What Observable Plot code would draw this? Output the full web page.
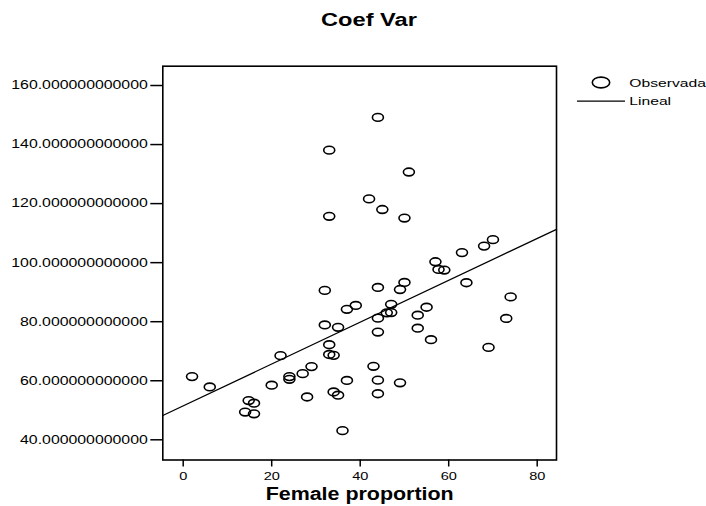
<!DOCTYPE html>
<html><head><meta charset="utf-8">
<script src="https://cdn.jsdelivr.net/npm/d3@7"></script>
<script src="https://cdn.jsdelivr.net/npm/@observablehq/plot@0.6"></script>
<style>
body{margin:0;background:#fff;font-family:"Liberation Sans",Arial,sans-serif;}
#wrap{position:relative;width:706px;height:506px;overflow:hidden;}
#title{display:block;}
#legend{position:absolute;left:0;top:0;}
</style></head><body>
<div id="wrap">
<svg id="title" width="706" height="40"><text x="369" y="26" text-anchor="middle" font-weight="bold" font-size="17.5" font-family="Liberation Sans, Arial, sans-serif" fill="black">Coef Var</text></svg>
<div id="chart"></div>
<svg id="legend" width="706" height="120" font-family="Liberation Sans, Arial, sans-serif">
  <ellipse cx="601" cy="82.5" rx="8.7" ry="5.4" fill="none" stroke="black" stroke-width="1.6"></ellipse>
  <text x="629.3" y="86.6" font-size="11.6" fill="black">Observada</text>
  <line x1="577" x2="625" y1="101.2" y2="101.2" stroke="black" stroke-width="1.2"></line>
  <text x="629.3" y="105.2" font-size="11.6" fill="black">Lineal</text>
</svg>
</div>
<script>
// Data
const femaleProportion = [2, 6, 14.8, 16, 14, 16, 20, 22, 24, 24, 27, 29, 28, 32, 32, 35, 37, 39, 33, 33, 34, 34, 35, 37, 36, 33, 33, 44, 51, 42, 45, 50, 70, 68, 63, 57, 57.7, 59, 64, 74, 73, 69, 44, 50, 49, 47, 46, 47, 44, 44, 53, 55, 53, 56, 43, 44, 49, 44];
const coefVar = [61.4, 57.9, 53.3, 52.4, 49.4, 48.8, 58.5, 68.5, 61.4, 60.5, 62.4, 64.8, 54.5, 90.6, 78.9, 78.1, 84.2, 85.5, 72.2, 68.9, 68.6, 56.2, 55.1, 60.1, 43.1, 138.1, 115.7, 149.2, 130.7, 121.6, 118.0, 115.1, 107.8, 105.6, 103.4, 100.3, 97.7, 97.5, 93.2, 88.4, 81.1, 71.3, 91.6, 93.3, 90.9, 85.9, 83.0, 83.1, 81.2, 76.5, 82.2, 84.9, 77.8, 73.9, 64.9, 60.2, 59.3, 55.6];
const xTicks = [0, 20, 40, 60, 80];
const yTicks = [40, 60, 80, 100, 120, 140, 160];
const xDomain = [-4.61, 84.36];
const yDomain = [33.16, 166.54];

const table = femaleProportion.map((x, i) => ({x, y: coefVar[i]}));

// Least-squares fit (Lineal)
const mx = d3.mean(femaleProportion), my = d3.mean(coefVar);
const slope = d3.sum(table, d => (d.x - mx) * (d.y - my)) / d3.sum(table, d => (d.x - mx) ** 2);
const intercept = my - slope * mx;
const fit = xDomain.map(x => ({x, y: intercept + slope * x}));

// hollow ellipse symbol
const K = 0.5522847498;
const ellipse = {
  draw(ctx, size) {
    const r = Math.sqrt(size / Math.PI);
    const rx = r, ry = r * 0.7;
    ctx.moveTo(rx, 0);
    ctx.bezierCurveTo(rx, K * ry, K * rx, ry, 0, ry);
    ctx.bezierCurveTo(-K * rx, ry, -rx, K * ry, -rx, 0);
    ctx.bezierCurveTo(-rx, -K * ry, -K * rx, -ry, 0, -ry);
    ctx.bezierCurveTo(K * rx, -ry, rx, -K * ry, rx, 0);
    ctx.closePath();
  }
};

const chart = Plot.plot({
  width: 706, height: 466,
  marginLeft: 162.3, marginRight: 150, marginTop: 25.7, marginBottom: 46.5,
  style: {fontFamily: "Liberation Sans, Arial, sans-serif", fontSize: "12px", color: "black", background: "white", overflow: "visible"},
  x: {domain: xDomain},
  y: {domain: yDomain},
  marks: [
    Plot.axisY({ticks: yTicks, tickFormat: d3.format(".12f"), tickSize: 12, tickPadding: 3, fontSize: 12, label: null, strokeWidth: 1.5}),
    Plot.axisX({ticks: xTicks, tickFormat: d3.format("d"), tickSize: 7, tickPadding: 5, fontSize: 11, label: "Female proportion", labelAnchor: "center", labelArrow: "none", labelOffset: 40, strokeWidth: 1.5}),
    Plot.line(fit, {x: "x", y: "y", stroke: "black", strokeWidth: 1.3}),
    Plot.dot(table, {x: "x", y: "y", symbol: ellipse, r: 5.5, fill: "none", stroke: "black", strokeWidth: 1.6}),
    Plot.frame({stroke: "black", strokeWidth: 1.6})
  ]
});
document.getElementById("chart").appendChild(chart);

function stretch(el, k) {
  const w = el.getComputedTextLength();
  el.setAttribute("textLength", (w * k).toFixed(2));
  el.setAttribute("lengthAdjust", "spacingAndGlyphs");
}
chart.querySelectorAll("text").forEach(t => {
  if (t.textContent.includes("Female")) {
    t.textContent = "Female proportion";
    t.setAttribute("font-size", "18");
    t.setAttribute("font-weight", "bold");
    t.style.fontSize = "18px";
    t.style.fontWeight = "bold";
    stretch(t, 1.19);
  } else {
    stretch(t, 1.32);
  }
});
document.querySelectorAll("#title text, #legend text").forEach(t => stretch(t, 1.35));
</script>
</body></html>
